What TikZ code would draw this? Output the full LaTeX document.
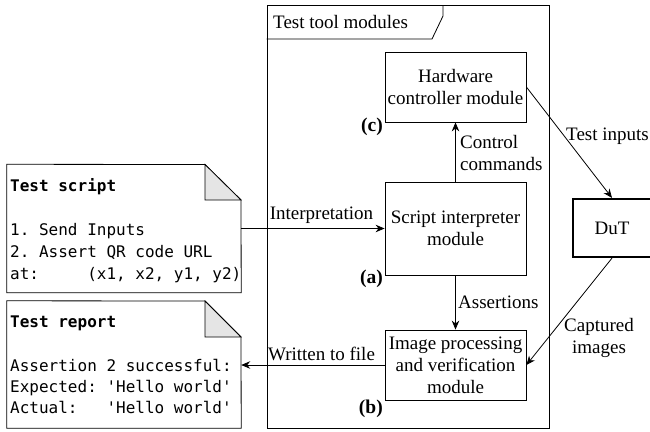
\documentclass[tikz,border=0pt]{standalone}
\usepackage{fontspec}
\setmainfont{Liberation Serif}
\setmonofont{DejaVu Sans Mono}
\usetikzlibrary{arrows.meta}

\begin{document}
\begin{tikzpicture}[x=1pt,y=-1pt,
  serif/.style={font=\fontsize{19}{22}\selectfont},
  module/.style={draw, line width=0.8pt, align=center, inner sep=0pt,
    minimum width=141pt, serif},
  tag/.style={font=\fontsize{19.5}{22}\selectfont\bfseries, anchor=east, inner sep=0pt},
  lbl/.style={serif, inner sep=0pt},
  docbox/.style={inner sep=0pt, minimum width=234pt, minimum height=128pt},
  docline/.style={line width=0.8pt, line join=miter},
  fold/.style={draw, line width=0.8pt, fill=black!10},
  mono/.style={font=\fontsize{16}{22}\ttfamily, anchor=base west, inner sep=0pt},
  monotitle/.style={mono, font=\fontsize{16}{22}\ttfamily\bfseries},
  arr/.style={line width=0.8pt, -{Stealth[length=9pt,width=7.5pt]}},
]
\useasboundingbox (0,0) rectangle (650,431);
\clip (0,0) rectangle (650,431);

% ---- frame holding the tool modules ----
\node[draw, line width=0.8pt, inner sep=0pt, minimum width=282pt, minimum height=423pt]
  (frame) at (408,216.5) {};
\draw[line width=0.8pt] (frame.west |- 0,39) -- (432,39) -- (443,16) -- (443,5);
\node[lbl, anchor=base west] (frametitle) at (273,28) {Test tool modules};

% ---- modules ----
\node[module, minimum height=70pt] (hw) at (455.5,87) {Hardware\\controller module};
\node[module, minimum height=93pt] (interp) at (455.5,228.5) {Script interpreter\\module};
\node[module, minimum height=70pt] (img) at (455.5,365) {Image processing\\and verification\\module};

\node[tag] (tagc) at (383,127) {(c)};
\node[tag] (taga) at (383,279) {(a)};
\node[tag] (tagb) at (383,409) {(b)};

% ---- device under test ----
\node[draw, line width=2.2pt, inner sep=0pt, minimum width=78pt, minimum height=58pt, serif]
  (dut) at (612,228) {DuT};

% ---- test script document ----
\node[docbox] (script) at (124,228.5) {};
\draw[docline] (script.north west) -- (205,164.5) -- (241,200)
  -- (script.south east) -- (script.south west) -- cycle;
\draw[fold] (205,164.5) -- (205,200) -- (241,200) -- cycle;
\node[monotitle] (stitle) at (10,191) {Test script};
\node[mono] (sl1) at (10,235) {1. Send Inputs};
\node[mono] (sl2) at (10,257) {2. Assert QR code URL};
\node[mono] (sl3) at (10,279) {at:\phantom{00000}(x1, x2, y1, y2)};

% ---- test report document ----
\node[docbox, minimum height=127pt] (report) at (124,364.5) {};
\draw[docline] (report.north west) -- (205,301) -- (241,337)
  -- (report.south east) -- (report.south west) -- cycle;
\draw[fold] (205,301) -- (205,337) -- (241,337) -- cycle;
\node[monotitle] (rtitle) at (10,327) {Test report};
\node[mono] (rl1) at (10,371) {Assertion 2 successful:};
\node[mono] (rl2) at (10,392) {Expected: 'Hello world'};
\node[mono] (rl3) at (10,413) {Actual:\phantom{000}'Hello world'};

% ---- connectors ----
\draw[arr] (script.east) -- (interp.west)
  node[lbl, pos=0.56, above=5pt] (linterp) {Interpretation};
\draw[arr] (interp.north) -- (hw.south);
\node[lbl, anchor=west, align=left] (lctrl) at (460,153) {Control\\commands};
\draw[arr] (interp.south) -- (img.north);
\node[lbl, anchor=base west] (lassert) at (458,308) {Assertions};
\draw[arr] (hw.east) -- (dut.north);
\node[lbl, anchor=base west] (linputs) at (566,140) {Test inputs};
\draw[arr] (dut.south) -- (img.east);
\node[lbl, align=center] (lcapt) at (599,338) {Captured\\images};
\draw[arr] (img.west) -- (img.west -| report.east)
  node[lbl, pos=0.44, above=4pt] (lwritten) {Written to file};
\end{tikzpicture}
\end{document}
